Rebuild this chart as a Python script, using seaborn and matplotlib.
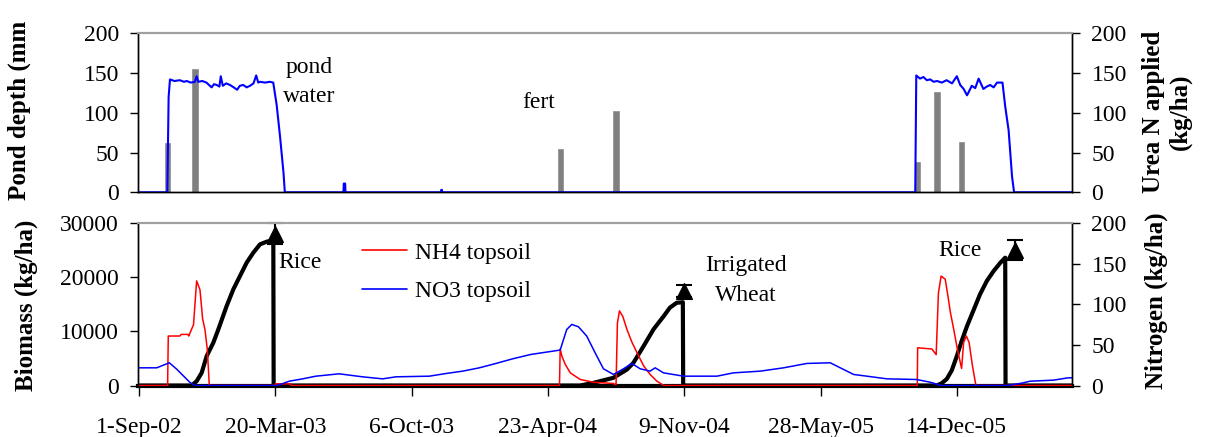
import matplotlib
matplotlib.use("Agg")
import matplotlib.pyplot as plt
from matplotlib.lines import Line2D
import seaborn as sns

# ---------------- data (x in days since 1-Sep-02) ----------------
tick_days = [0, 200, 400, 600, 800, 1000, 1200]
tick_labels = ["1-Sep-02", "20-Mar-03", "6-Oct-03", "23-Apr-04", "9-Nov-04", "28-May-05", "14-Dec-05"]

pond_days = [0, 41.6, 43.5, 45.5, 52, 60, 66, 70, 76, 82, 84.6, 87, 93, 99,
             106.6, 110, 114, 118, 120, 123, 128, 133.5, 139, 144, 148, 153, 158, 163, 168, 172, 175, 177.6,
             185, 192, 197, 202, 207, 212, 214, 300, 300.5, 302.5, 303, 443,
             443.5, 444.5, 445, 1139, 1140.5, 1146, 1151, 1156, 1161, 1166, 1171, 1178, 1185, 1193,
             1200, 1205, 1210, 1215, 1222, 1227, 1232, 1239, 1244, 1249, 1254, 1259, 1267, 1271,
             1276, 1281, 1284, 1369]
pond_mm = [0, 0, 120, 142, 140, 141, 139, 140, 138, 139, 146, 139, 140, 138,
           132, 136, 135, 133, 146, 134, 137, 135, 132, 129, 134, 135, 132, 134, 137, 147, 138, 139,
           138, 139, 138, 110, 70, 25, 0, 0, 11, 11, 0, 0,
           3, 3, 0, 0, 147, 143, 145, 141, 142, 139, 140, 138, 141, 137,
           146, 135, 130, 122, 134, 131, 143, 130, 133, 135, 132, 138, 138, 108,
           78, 20, 0, 0]

fert_days = [42, 82.5, 618.5, 700, 1142, 1171, 1207]
fert_kg = [62, 155, 54, 102, 38, 126, 63]

bio_days = [0, 77.3, 84.6, 92, 99.3, 109, 116.4, 128.6, 138.4, 148.2,
            158, 167.8, 177.6, 187.4, 197.1, 197.6,
            647.3, 667, 696, 716, 725.5, 740, 755, 770, 779, 789, 798, 798.5,
            1170.5, 1178, 1185.3, 1192.6, 1200, 1207, 1215, 1225, 1234, 1244,
            1254, 1264, 1271, 1271.5, 1369]
bio_kg = [0, 0, 800, 2350, 5430, 7900, 10370, 14690, 17780, 20250,
          22720, 24570, 26110, 26600, 26850, 0,
          0, 490, 1420, 2960, 4200, 7200, 10400, 12840, 14400, 15300, 15400, 0,
          0, 430, 1210, 2800, 5430, 8200, 11000, 14070, 16860, 19330,
          21170, 22720, 23640, 0, 0]

obs_days = [199, 799, 1286]
obs_biomass = [28100, 17400, 25000]
obs_err = [1950, 1100, 1830]

nh4_days = [0, 42, 43, 60, 62, 72, 73, 80, 84.6, 89.5,
            93.4, 96.8, 100.3, 103.2, 199, 200, 222, 223, 617, 618,
            620.6, 625.5, 632.8, 647.5, 667, 696, 698.5, 700, 702, 705,
            710, 716, 723.5, 731, 740.6, 750, 760, 770, 1142, 1142.5,
            1163.4, 1169.7, 1173, 1177, 1183, 1187, 1190.6, 1195.5, 1201, 1207,
            1210, 1214, 1218, 1223, 1228, 1369]
nh4_kg = [0, 0, 61, 61, 63, 63, 61, 75, 129, 118,
          82, 69, 44, 0, 0, 2, 2, 0, 0, 45,
          36, 26, 15.6, 7.4, 4, 2.5, 1.2, 1.2, 77, 92,
          85, 69, 53, 40, 24, 13.6, 5.3, 0, 0, 46.5,
          45, 38, 114, 135, 131, 110, 90, 69, 44, 21,
          53, 61, 53, 24, 0, 0]

no3_days = [0, 26, 44.5, 55.3, 65, 74.9, 79.7, 82, 203, 220.5,
            240, 259.6, 293.8, 308.5, 328, 357.6, 377, 426, 450.5, 475,
            499.4, 523.8, 548.3, 575, 618, 627.6, 635, 644.8, 657, 669.3,
            681.5, 696.2, 710.9, 723, 735.4, 750, 757.4, 769.6, 799, 848,
            872.4, 911.6, 945.8, 980, 1014.3, 1029, 1048.6, 1068, 1097.5, 1141,
            1160.6, 1172.8, 1175.6, 1275.6, 1297.6, 1307.4, 1341.7, 1363.7, 1369]
no3_kg = [21.8, 21.8, 28, 20.2, 12, 3.7, 1.2, 0, 0, 5.3,
          8.2, 11.5, 14.4, 12.8, 10.7, 8.2, 10.7, 11.5, 14.8, 17.7,
          21.8, 27.2, 32.9, 38.3, 43.7, 69, 75.3, 72.4, 60.9, 40.3,
          20.6, 13.6, 20.6, 27.2, 20.6, 17.7, 21.8, 15.6, 11.5, 11.5,
          15.6, 17.7, 21.8, 27.2, 28, 21.8, 13.6, 11.5, 8.2, 7.4,
          4.1, 1.2, 0, 0, 3.3, 5.3, 6.6, 9.5, 9.5]

legend_labels = ["NH4 topsoil", "NO3 topsoil"]

# ---------------- style ----------------
sns.set_theme(style="ticks")
plt.rcParams["font.family"] = ["Liberation Serif", "DejaVu Serif"]
plt.rcParams["text.color"] = "black"
plt.rcParams["axes.labelcolor"] = "black"
plt.rcParams["xtick.color"] = "black"
plt.rcParams["ytick.color"] = "black"
FS = 17
LBL = 18

W, H = 1205, 437
fig = plt.figure(figsize=(W / 100, H / 100), dpi=100)

def fx(px):
    return px / W

def fy(py):
    return 1 - py / H

L, R = 138.3, 1072
ax1 = fig.add_axes([fx(L), fy(192.3), fx(R - L), (192.3 - 33.3) / H])
ax1r = ax1.twinx()
ax2 = fig.add_axes([fx(L), fy(385.5), fx(R - L), (385.5 - 223.3) / H])
ax2r = ax2.twinx()

XMIN, XMAX = -1, 1369
for a in (ax1, ax1r, ax2, ax2r):
    a.set_xlim(XMIN, XMAX)
    a.set_facecolor("none")
    for s in a.spines.values():
        s.set_color("black")
        s.set_linewidth(1.0)
    a.spines["top"].set_color("#a0a0a0")
    a.spines["top"].set_linewidth(1.5)

# ---------------- top panel ----------------
ax1r.bar(fert_days, fert_kg, width=8, color="#808080", edgecolor="#8a8a8a", linewidth=0.5)
sns.lineplot(x=pond_days, y=pond_mm, ax=ax1, color="#0000ff", linewidth=1.5,
             estimator=None, sort=False)
ax1.set_zorder(ax1r.get_zorder() + 1)
ax1.patch.set_visible(False)

for a in (ax1, ax1r):
    a.set_ylim(0, 200)
    a.set_yticks([0, 50, 100, 150, 200])
    a.set_xticks([])
    a.set_ylabel("")
ax1.tick_params(axis="y", which="both", left=True, right=False, labelleft=True, labelright=False,
                direction="out", length=6, width=1, pad=8, labelsize=FS, colors="black")
ax1r.tick_params(axis="y", which="both", left=False, right=True, labelleft=False, labelright=True,
                 direction="out", length=6, width=1, pad=8, labelsize=FS, colors="black")

ax1.text(250, 157, "pond", ha="center", va="center", fontsize=FS, color="black")
ax1.text(250, 121, "water", ha="center", va="center", fontsize=FS, color="black")
ax1.text(587, 113, "fert", ha="center", va="center", fontsize=FS, color="black")

# ---------------- bottom panel ----------------
sns.lineplot(x=bio_days, y=bio_kg, ax=ax2, color="black", linewidth=3,
             estimator=None, sort=False)
ax2.errorbar(obs_days, obs_biomass, yerr=obs_err, fmt="none", ecolor="black",
             elinewidth=1.5, capsize=6, capthick=1.5, clip_on=False, zorder=5)
sns.scatterplot(x=obs_days, y=obs_biomass, ax=ax2, marker="^", color="black",
                s=130, edgecolor="black", zorder=6, clip_on=False)
sns.lineplot(x=nh4_days, y=nh4_kg, ax=ax2r, color="#ff0000", linewidth=1.1,
             estimator=None, sort=False)
sns.lineplot(x=no3_days, y=no3_kg, ax=ax2r, color="#0000ff", linewidth=1.1,
             estimator=None, sort=False)
ax2r.set_zorder(ax2.get_zorder() + 1)
ax2r.patch.set_visible(False)
ax2r.spines["bottom"].set_visible(False)
ax2.spines["bottom"].set_linewidth(3)

ax2.set_ylim(0, 30000)
ax2.set_yticks([0, 10000, 20000, 30000])
ax2r.set_ylim(0, 200)
ax2r.set_yticks([0, 50, 100, 150, 200])
for a in (ax2, ax2r):
    a.set_ylabel("")
    a.set_xticks(tick_days)
ax2.set_xticklabels(tick_labels)
ax2.tick_params(axis="x", bottom=True, top=False, direction="out", length=7, width=1,
                pad=16, labelsize=FS, colors="black")
ax2r.tick_params(axis="x", bottom=False, top=False, labelbottom=False)
ax2.tick_params(axis="y", left=True, right=False, labelleft=True, labelright=False,
                direction="out", length=6, width=1, pad=8, labelsize=FS, colors="black")
ax2r.tick_params(axis="y", left=False, right=True, labelleft=False, labelright=True,
                 direction="out", length=6, width=1, pad=8, labelsize=FS, colors="black")

ax2.text(204, 22800, "Rice", ha="left", va="center", fontsize=FS, color="black")
ax2.text(891, 19420, "Irrigated\nWheat", ha="center", va="center", fontsize=FS,
         linespacing=1.6, color="black")
ax2.text(1205, 25060, "Rice", ha="center", va="center", fontsize=FS, color="black")

handles = [Line2D([], [], color="#ff0000", lw=1.2), Line2D([], [], color="#0000ff", lw=1.2)]
leg = ax2r.legend(handles, legend_labels, loc="upper left", bbox_to_anchor=(fx(362), fy(242)),
                  bbox_transform=fig.transFigure, frameon=False, fontsize=FS, handlelength=1.9,
                  handletextpad=0.35, labelspacing=0.72, borderpad=0, borderaxespad=0,
                  labelcolor="black")

# ---------------- axis titles ----------------
fig.text(fx(19), fy(200), "Pond depth (mm", rotation=90, ha="center", va="bottom",
         fontsize=LBL, fontweight="bold", color="black")
fig.text(fx(1167), fy(112), "Urea N applied\n(kg/ha)", rotation=90, ha="center", va="center",
         fontsize=LBL, fontweight="bold", linespacing=1.15, color="black")
fig.text(fx(26), fy(305), "Biomass (kg/ha)", rotation=90, ha="center", va="center",
         fontsize=LBL, fontweight="bold", color="black")
fig.text(fx(1156), fy(301), "Nitrogen (kg/ha)", rotation=90, ha="center", va="center",
         fontsize=LBL, fontweight="bold", color="black")

fig.savefig("out.png", dpi=100)
